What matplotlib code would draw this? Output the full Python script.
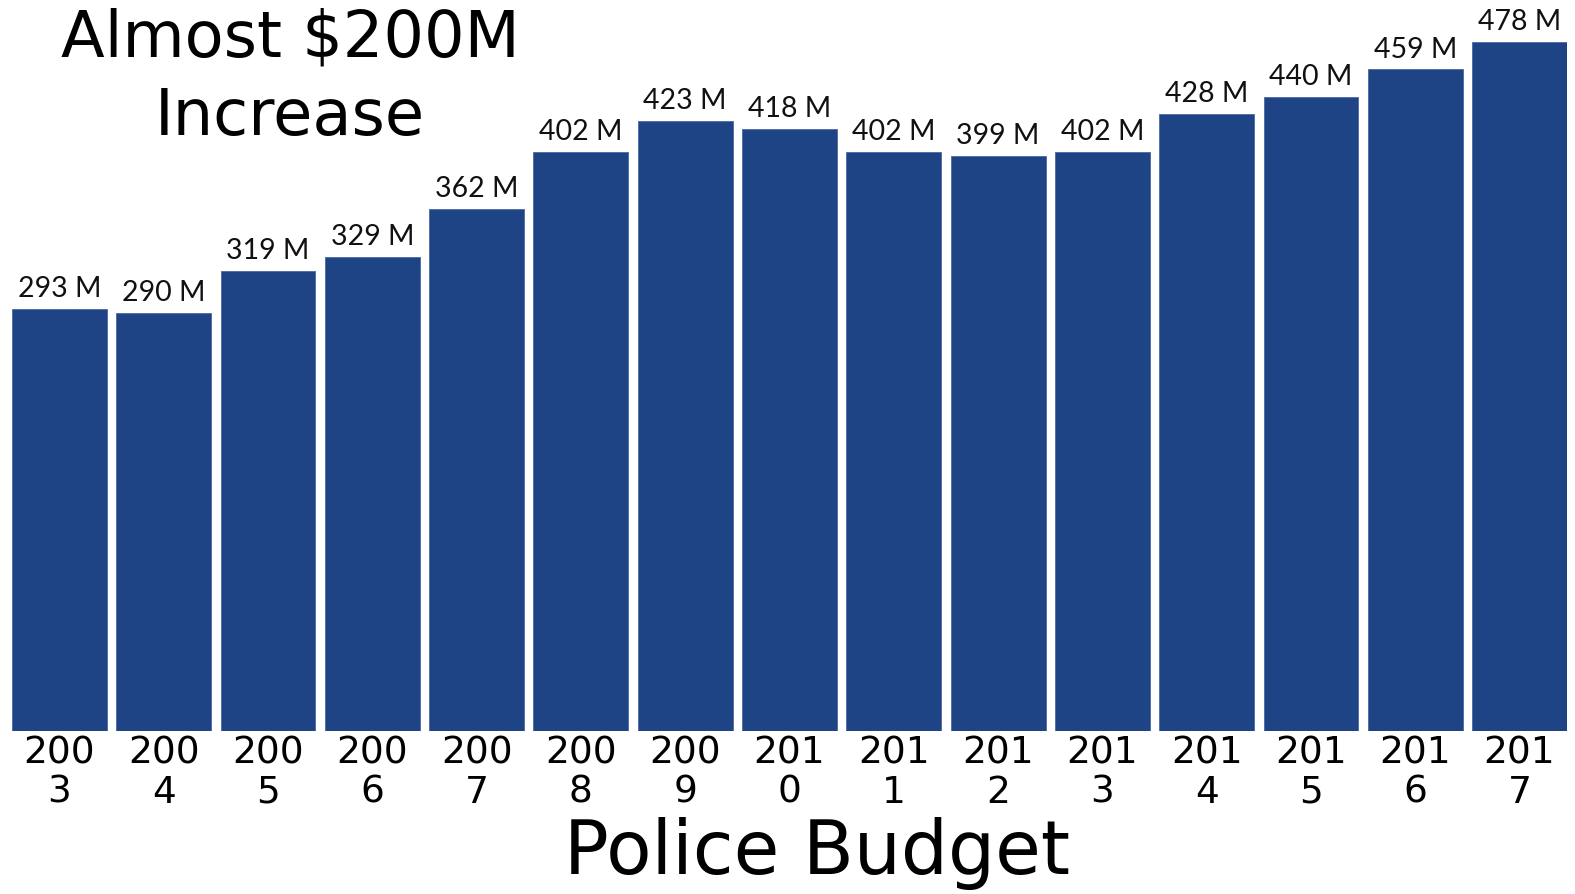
import matplotlib.pyplot as plt
import numpy as np

# Police budget per year (millions)
years = ['2003', '2004', '2005', '2006', '2007', '2008', '2009', '2010',
         '2011', '2012', '2013', '2014', '2015', '2016', '2017']
budget = [293, 290, 319, 329, 362, 402, 423, 418, 402, 399, 402, 428, 440, 459, 478]

bar_color = '#1E4486'

fig = plt.figure(figsize=(15.75, 8.94), dpi=100)
ax = fig.add_axes([12 / 1575, 163 / 894, (1567 - 12) / 1575, 731 / 894])

x = np.arange(len(years))
width = 0.91
bars = ax.bar(x, budget, width=width, color=bar_color, edgecolor='#4A68A0', linewidth=0.6)

ax.set_xlim(-width / 2, len(years) - 1 + width / 2)
ax.set_ylim(0, 507.2)

# Value labels above bars
for xi, v in zip(x, budget):
    ax.annotate(f'{v} M', (xi, v), xytext=(0, 5), textcoords='offset points',
                ha='center', va='bottom', fontsize=20.5, family='Lato',
                color='#111111', annotation_clip=False)

# Year labels wrapped as in the original
ax.set_xticks(x)
ax.set_xticklabels([y[:3] + '\n' + y[3:] for y in years], fontsize=27,
                   linespacing=1.12, family='DejaVu Sans')
ax.tick_params(axis='x', length=0, pad=3)
ax.set_yticks([])
for s in ax.spines.values():
    s.set_visible(False)

fig.text(817 / 1575, 1 - 853 / 894, 'Police Budget', fontsize=53.5,
         ha='center', va='center', family='DejaVu Sans')
fig.text(290 / 1575, 1 - 78 / 894, 'Almost $200M\nIncrease', fontsize=46,
         ha='center', va='center', linespacing=1.33, family='DejaVu Sans')

fig.savefig('out.png', dpi=100)
